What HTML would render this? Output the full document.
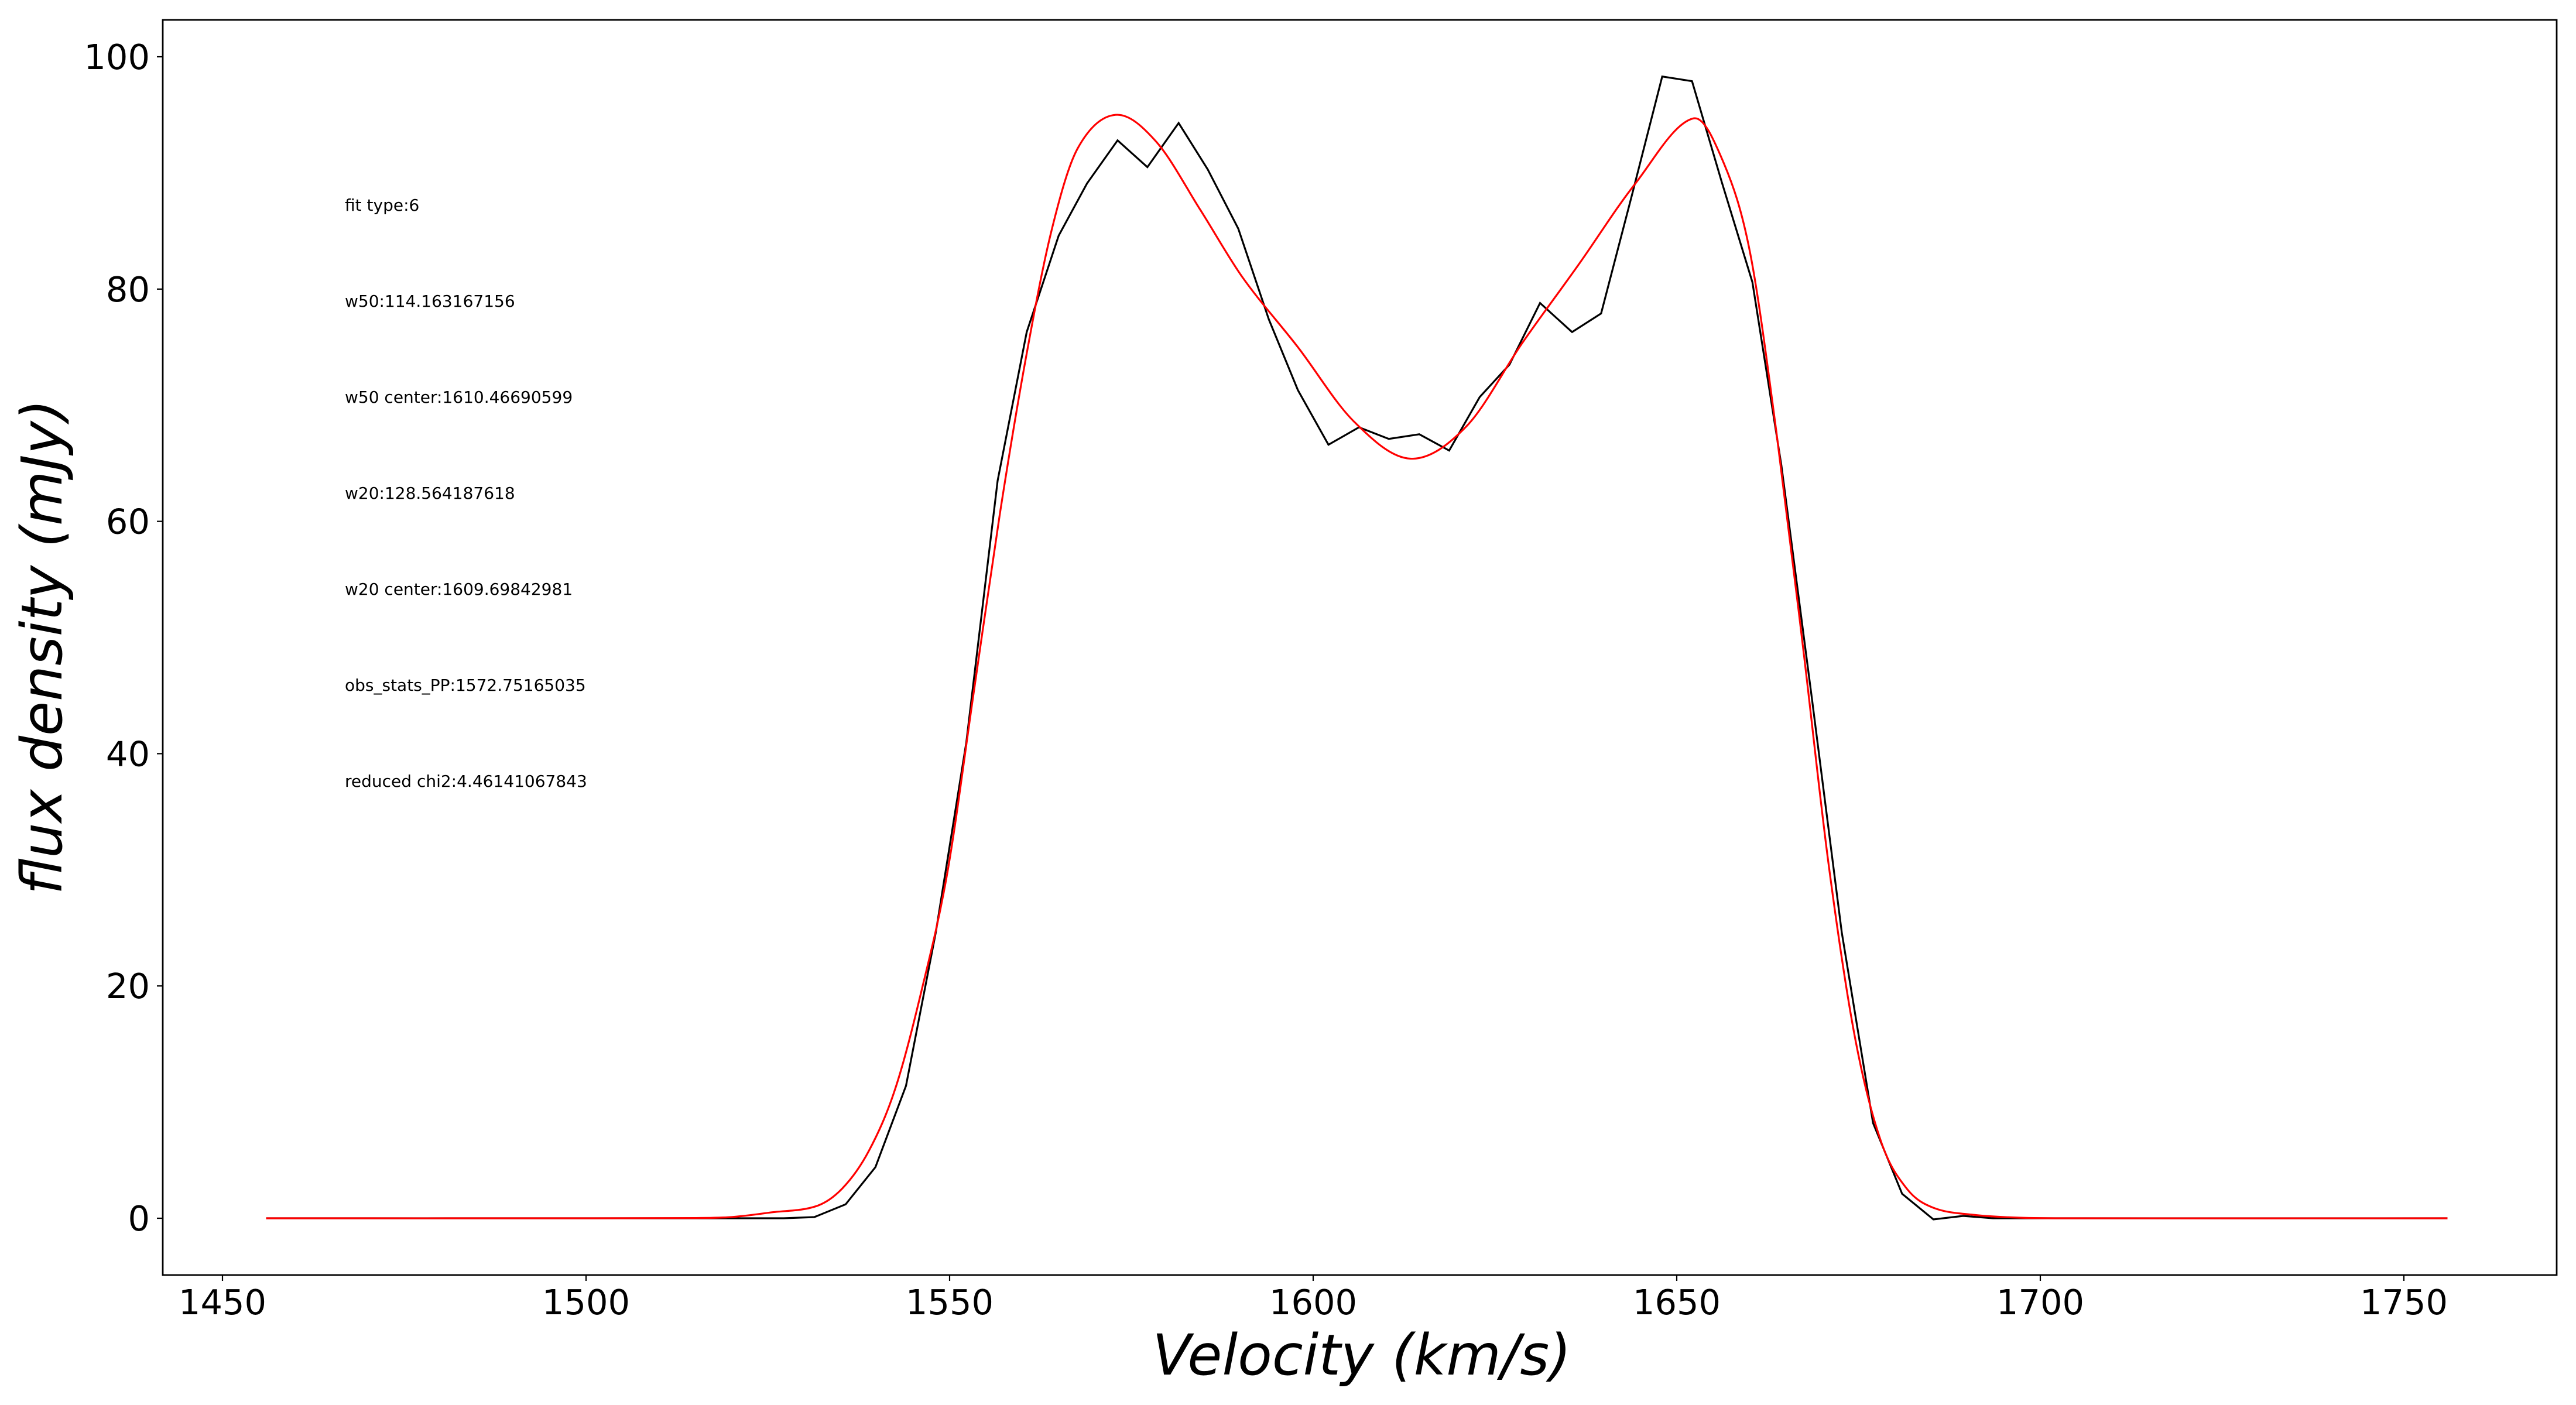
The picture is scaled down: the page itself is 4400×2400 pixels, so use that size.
<!DOCTYPE html>
<html><head><meta charset="utf-8"><style>
html,body{margin:0;padding:0;background:#fff;}
svg{display:block;}
text{font-family:"DejaVu Sans","Liberation Sans",sans-serif;fill:#000;}
</style></head>
<body>
<svg id="chart" width="4400" height="2400" viewBox="0 0 4400 2400" xmlns="http://www.w3.org/2000/svg">
<rect x="0" y="0" width="4400" height="2400" fill="#fff"/>
<g id="plot"></g>
<g id="annot">
<text x="589" y="360" font-size="28">fit type:6</text>
<text x="589" y="524" font-size="28">w50:114.163167156</text>
<text x="589" y="688" font-size="28">w50 center:1610.46690599</text>
<text x="589" y="852" font-size="28">w20:128.564187618</text>
<text x="589" y="1016" font-size="28">w20 center:1609.69842981</text>
<text x="589" y="1180" font-size="28">obs_stats_PP:1572.75165035</text>
<text x="589" y="1344" font-size="28">reduced chi2:4.46141067843</text>
</g>
<text x="2326" y="2348" font-size="96" font-style="italic" text-anchor="middle">Velocity (km/s)</text>
<text x="0" y="0" font-size="96" font-style="italic" text-anchor="middle" transform="translate(105,1105) rotate(-90)">flux density (mJy)</text>
</svg>
<script>
// observed spectrum (black)
const obsVelocity = [1456.0,1460.0,1520.0,1527.2,1531.4,1535.7,1539.8,1544.0,1548.1,1552.3,1556.6,1560.6,1565.0,1568.9,1573.1,1577.2,1581.5,1585.5,1589.7,1593.9,1597.9,1602.1,1606.3,1610.4,1614.6,1618.7,1622.9,1627.0,1631.2,1635.6,1639.6,1643.8,1648.0,1652.1,1656.2,1660.4,1664.4,1668.6,1672.7,1677.0,1681.0,1685.3,1689.4,1693.5,1756.0];
const obsFlux = [0,0,0,0,0.1,1.2,4.4,11.4,24.6,41.0,63.5,76.3,84.6,89.1,92.8,90.5,94.3,90.3,85.2,77.4,71.3,66.6,68.1,67.1,67.5,66.1,70.7,73.5,78.8,76.3,77.9,88.0,98.3,97.9,89.2,80.6,64.8,44.7,24.6,8.2,2.1,-0.1,0.2,0,0];
// fitted model (red)
const fitVelocity = [1456.0,1500.0,1515.0,1520.0,1525.4,1531.7,1535.3,1538.9,1542.5,1546.1,1549.7,1553.3,1556.9,1560.5,1564.0,1567.6,1572.8,1578.4,1584.5,1590.3,1597.9,1605.6,1613.4,1621.1,1628.8,1636.5,1644.2,1652.3,1656.5,1660.1,1663.7,1667.4,1670.9,1674.5,1678.1,1681.7,1685.3,1690.7,1697.0,1705.0,1756.0];
const fitFlux = [0,0,0.02,0.1,0.5,1.05,2.6,5.8,11.1,19.5,29.8,45.2,60.6,74.1,85.0,92.1,95.0,92.7,86.8,81.0,75.0,68.6,65.4,68.2,75.4,82.1,89.0,94.7,90.8,83.1,67.7,49.0,30.4,15.6,6.6,2.5,0.9,0.3,0.05,0,0];
const xTicks = [1450,1500,1550,1600,1650,1700,1750];
const yTicks = [0,20,40,60,80,100];

const AX = {left:278, right:4367, top:34, bottom:2178};
function xs(v){ return 4106 + (v - 1750) * 12.42; }
function ys(f){ return 2081 - f * 19.84; }

const NS = 'http://www.w3.org/2000/svg';
const plot = document.getElementById('plot');
function mk(tag, attrs){ const e = document.createElementNS(NS, tag); for (const k in attrs) e.setAttribute(k, attrs[k]); return e; }

// observed line
let d = '';
obsVelocity.forEach((v,i)=>{ d += (i?'L':'M') + xs(v).toFixed(1) + ',' + ys(obsFlux[i]).toFixed(1); });
const obs = mk('path', {d:d, fill:'none', stroke:'#000', 'stroke-width':3.2, 'stroke-linejoin':'miter'});


plot.appendChild(obs);

// fit line: cubic Hermite in x with nonuniform finite-difference slopes
const X = fitVelocity.map(xs), Y = fitFlux.map(ys), n = X.length;
const m = X.map((x,i)=>{
  if (i === 0) return (Y[1]-Y[0])/(X[1]-X[0]);
  if (i === n-1) return (Y[n-1]-Y[n-2])/(X[n-1]-X[n-2]);
  return (Y[i+1]-Y[i-1])/(X[i+1]-X[i-1]);
});
let fd = 'M' + X[0].toFixed(1) + ',' + Y[0].toFixed(1);
for (let i = 0; i < n-1; i++) {
  const h = X[i+1]-X[i];
  fd += 'C' + (X[i]+h/3).toFixed(1)+','+(Y[i]+m[i]*h/3).toFixed(1)+' '+(X[i+1]-h/3).toFixed(1)+','+(Y[i+1]-m[i+1]*h/3).toFixed(1)+' '+X[i+1].toFixed(1)+','+Y[i+1].toFixed(1);
}
const fit = mk('path', {d:fd, fill:'none', stroke:'#ff0000', 'stroke-width':3.2});


plot.appendChild(fit);

// axes frame
const frame = mk('rect', {x:AX.left, y:AX.top, width:AX.right-AX.left, height:AX.bottom-AX.top, fill:'none', stroke:'#000', 'stroke-width':2.8});


plot.appendChild(frame);

// x ticks
xTicks.forEach(t=>{
  const x = xs(t);
  const tk = mk('line', {x1:x, x2:x, y1:AX.bottom, y2:AX.bottom+10, stroke:'#000', 'stroke-width':2.2});
  
  
  plot.appendChild(tk);
  const lb = mk('text', {x:x, y:2245, 'font-size':59, 'text-anchor':'middle'});
  lb.textContent = String(t);
  
  
  plot.appendChild(lb);
});
// y ticks
yTicks.forEach(t=>{
  const y = ys(t);
  const tk = mk('line', {x1:AX.left-10, x2:AX.left, y1:y, y2:y, stroke:'#000', 'stroke-width':2.2});
  
  
  plot.appendChild(tk);
  const lb = mk('text', {x:256, y:y+21, 'font-size':59, 'text-anchor':'end'});
  lb.textContent = String(t);
  
  
  plot.appendChild(lb);
});
</script>
</body></html>
